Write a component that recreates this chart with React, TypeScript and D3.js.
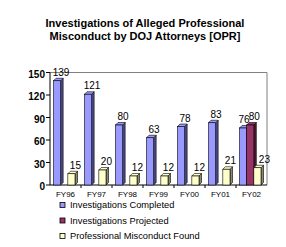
import * as d3 from "d3";

const categories = ["FY96", "FY97", "FY98", "FY99", "FY00", "FY01", "FY02"];
const seriesNames = [
  "Investigations Completed",
  "Investigations Projected",
  "Professional Misconduct Found",
];
const completed = [139, 121, 80, 63, 78, 83, 76];
const projected: (number | null)[] = [null, null, null, null, null, null, 80];
const misconduct = [15, 20, 12, 12, 12, 21, 23];
const yTicks = [0, 30, 60, 90, 120, 150];

const fronts = ["#9999FF", "#993366", "#FFFFCC"];
const sides = ["#4D4D88", "#4D1A33", "#8A8A6E"];

export default function App() {
  const width = 286;
  const height = 247;
  const left = 50;
  const right = 267;
  const top = 72.5;
  const bottom = 185;
  const depth = 2.5;

  const x = d3.scaleBand(categories, [left, right]);
  const x1 = d3.scaleBand(seriesNames, [3.5, 25]);
  const y = d3.scaleLinear([0, 150], [bottom, top]);

  const values = [completed, projected, misconduct];

  const bars: { s: number; i: number; v: number }[] = [];
  values.forEach((arr, s) =>
    arr.forEach((v, i) => {
      if (v != null) bars.push({ s, i, v });
    })
  );

  return (
    <div style={{ position: "absolute", left: 0, top: 0 }}>
      <svg width={width} height={height} style={{ display: "block", fontFamily: "Arial, 'Liberation Sans', sans-serif" }}>
        <rect width={width} height={height} fill="#fff" />
        <text x={145} y={27} textAnchor="middle" fontSize={11} fontWeight="bold">
          Investigations of Alleged Professional
        </text>
        <text x={145} y={40} textAnchor="middle" fontSize={11} fontWeight="bold">
          Misconduct by DOJ Attorneys [OPR]
        </text>

        {/* back wall */}
        <path d={`M${left},${top}H${right}V${bottom}`} fill="none" stroke="#808080" />
        <line x1={left} x2={left} y1={top} y2={bottom} stroke="#000" />
        <line x1={left} x2={right} y1={bottom} y2={bottom} stroke="#000" />

        {yTicks.map((t) => (
          <g key={t}>
            <line x1={left - 4} x2={left} y1={y(t)} y2={y(t)} stroke="#000" />
            <text x={left - 5} y={y(t) + 1.5} dy="0.35em" textAnchor="end" fontSize={10} fontWeight="bold">
              {t}
            </text>
          </g>
        ))}

        {categories.map((c, i) => (
          <g key={c}>
            {i > 0 && (
              <line x1={x(c)!} x2={x(c)!} y1={bottom} y2={bottom + 3} stroke="#000" />
            )}
            <text x={x(c)! + x.bandwidth() / 2} y={bottom + 12} textAnchor="middle" fontSize={8}>
              {c}
            </text>
          </g>
        ))}

        {bars.map(({ s, i, v }) => {
          const bx = x(categories[i])! + x1(seriesNames[s])!;
          const bw = x1.bandwidth();
          const by = y(v);
          return (
            <g key={`${s}-${i}`} stroke="#000" strokeWidth={0.6}>
              <path
                d={`M${bx + bw},${by}l${depth},${-depth}V${bottom - depth}l${-depth},${depth}Z`}
                fill={sides[s]}
              />
              <path
                d={`M${bx},${by}l${depth},${-depth}h${bw}l${-depth},${depth}Z`}
                fill={fronts[s]}
              />
              <rect x={bx} y={by} width={bw} height={bottom - by} fill={fronts[s]} />
            </g>
          );
        })}

        {bars.map(({ s, i, v }) => {
          const hasProjected = projected[i] != null;
          const shift = hasProjected ? (s === 0 ? -3 : s === 2 ? 3 : 0) : 0;
          return (
            <text
              key={`l${s}-${i}`}
              x={x(categories[i])! + x1(seriesNames[s])! + x1.bandwidth() / 2 + 4 + shift}
              y={y(v) - 5}
              textAnchor="middle"
              fontSize={10}
            >
              {v}
            </text>
          );
        })}

        {seriesNames.map((n, s) => (
          <g key={n} transform={`translate(60,${205 + s * 15.5})`}>
            <rect x={0} y={-2.5} width={5} height={5} fill={fronts[s]} stroke="#000" strokeWidth={0.8} />
            <text x={10} y={0} dy="0.35em" fontSize={9.3}>
              {n}
            </text>
          </g>
        ))}
      </svg>
    </div>
  );
}
